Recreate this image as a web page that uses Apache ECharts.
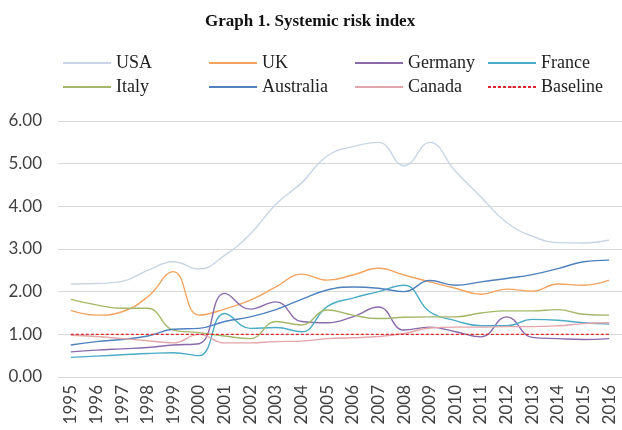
<!DOCTYPE html>
<html>
<head>
<meta charset="utf-8">
<script src="https://cdn.jsdelivr.net/npm/echarts@6/dist/echarts.min.js"></script>
<style>html,body{margin:0;padding:0;background:#fff}#c{width:622px;height:430px}</style>
</head>
<body>
<div id="c"></div>
<script>
const years = ['1995','1996','1997','1998','1999','2000','2001','2002','2003','2004','2005','2006','2007','2008','2009','2010','2011','2012','2013','2014','2015','2016'];
const usa = [2.18, 2.19, 2.24, 2.50, 2.70, 2.53, 2.85, 3.35, 4.05, 4.55, 5.18, 5.40, 5.50, 4.95, 5.50, 4.82, 4.22, 3.62, 3.30, 3.15, 3.14, 3.21];
const uk = [1.56, 1.45, 1.53, 1.88, 2.47, 1.45, 1.59, 1.80, 2.11, 2.41, 2.27, 2.39, 2.55, 2.39, 2.23, 2.08, 1.94, 2.06, 2.01, 2.18, 2.15, 2.27];
const germany = [0.59, 0.63, 0.66, 0.69, 0.75, 0.78, 1.96, 1.59, 1.76, 1.30, 1.27, 1.41, 1.64, 1.10, 1.17, 1.06, 0.94, 1.41, 0.93, 0.90, 0.88, 0.90];
const france = [0.46, 0.49, 0.52, 0.55, 0.57, 0.50, 1.49, 1.14, 1.16, 1.06, 1.65, 1.85, 2.00, 2.15, 1.53, 1.32, 1.20, 1.20, 1.35, 1.33, 1.27, 1.24];
const italy = [1.82, 1.69, 1.61, 1.61, 1.10, 1.04, 0.96, 0.90, 1.30, 1.22, 1.57, 1.45, 1.37, 1.40, 1.41, 1.41, 1.50, 1.55, 1.55, 1.58, 1.47, 1.45];
const australia = [0.75, 0.83, 0.88, 0.96, 1.12, 1.14, 1.30, 1.41, 1.58, 1.82, 2.04, 2.11, 2.08, 2.00, 2.26, 2.15, 2.23, 2.31, 2.40, 2.54, 2.70, 2.74];
const canada = [0.98, 0.95, 0.90, 0.85, 0.80, 1.00, 0.80, 0.80, 0.83, 0.84, 0.90, 0.92, 0.95, 1.02, 1.15, 1.17, 1.17, 1.18, 1.18, 1.20, 1.25, 1.27];
const baseline = [1, 1, 1, 1, 1, 1, 1, 1, 1, 1, 1, 1, 1, 1, 1, 1, 1, 1, 1, 1, 1, 1];
const yTicks = [0, 1, 2, 3, 4, 5, 6];

const serif = '"Liberation Serif", "DejaVu Serif", serif';
const sans = 'Lato, "Liberation Sans", sans-serif';

function line(name, data, color, extra) {
  return Object.assign({
    name: name, type: 'line', data: data, smooth: 0.45, symbol: 'none',
    lineStyle: { color: color, width: 1.4 }, itemStyle: { color: color }, z: 3
  }, extra || {});
}

function legendCol(left, names) {
  return {
    orient: 'vertical', left: left, top: 48, itemWidth: 48, itemHeight: 2, itemGap: 4,
    data: names,
    textStyle: { fontFamily: serif, fontSize: 18, color: '#222', lineHeight: 20 }
  };
}

const chart = echarts.init(document.getElementById('c'), null, { renderer: 'canvas' });
chart.setOption({
  animation: false,
  backgroundColor: '#fff',
  title: {
    text: 'Graph 1. Systemic risk index', left: 200, top: 8,
    textStyle: { fontFamily: serif, fontSize: 17, fontWeight: 'bold', color: '#111' }
  },
  legend: [
    legendCol(57, ['USA', 'Italy']),
    legendCol(203, ['UK', 'Australia']),
    legendCol(349, ['Germany', 'Canada']),
    legendCol(482, ['France', 'Baseline'])
  ],
  grid: { left: 58, right: 0, top: 121, bottom: 53, containLabel: false },
  xAxis: {
    type: 'category', data: years, boundaryGap: true,
    axisLine: { show: false }, axisTick: { show: false },
    axisLabel: { rotate: 90, margin: 8, fontFamily: sans, fontSize: 17, color: '#404040', interval: 0 }
  },
  yAxis: {
    type: 'value', min: yTicks[0], max: yTicks[yTicks.length - 1], interval: 1,
    axisLine: { show: false }, axisTick: { show: false },
    splitLine: { lineStyle: { color: '#d9d9d9', width: 1 } },
    axisLabel: { margin: 16, fontFamily: sans, fontSize: 17, color: '#404040', formatter: v => v.toFixed(2) }
  },
  series: [
    line('USA', usa, '#c8d5e6'),
    line('UK', uk, '#f4a460'),
    line('Germany', germany, '#8a6aab'),
    line('France', france, '#4bacc6'),
    line('Italy', italy, '#a3b868'),
    line('Australia', australia, '#4f81bd'),
    line('Canada', canada, '#e2a5ab'),
    line('Baseline', baseline, '#e0242c', { smooth: false, lineStyle: { color: '#e0242c', width: 1.4, type: [3, 2] }, z: 4 })
  ]
});
</script>
</body>
</html>
